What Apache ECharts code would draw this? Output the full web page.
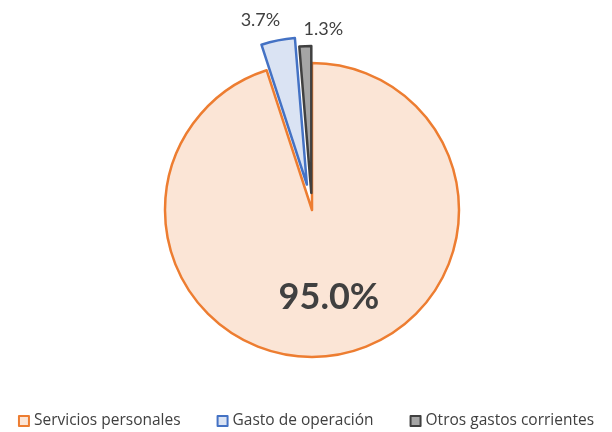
<!DOCTYPE html>
<html>
<head>
<meta charset="utf-8">
<script src="https://cdn.jsdelivr.net/npm/echarts@6/dist/echarts.min.js"></script>
<style>
    html, body { margin: 0; padding: 0; background: #fff; }
    #main-chart { width: 612px; height: 432px; }
</style>
</head>
<body>
<div id="main-chart"></div>
<script>
var categories = ['Servicios personales', 'Gasto de operación', 'Otros gastos corrientes'];
var values = [95.0, 3.7, 1.3];
var fills = ['#FBE5D6', '#DAE3F3', '#A5A5A5'];
var borders = ['#ED7D31', '#4472C4', '#404040'];

var mainChart = echarts.init(document.getElementById('main-chart'));

function hiddenItem(i) {
    return {
        name: categories[i],
        value: values[i],
        itemStyle: { color: 'transparent', borderColor: 'transparent' },
        label: { show: false },
        silent: true
    };
}

function shownItem(i, selected) {
    return {
        name: categories[i],
        value: values[i],
        selected: selected,
        itemStyle: { color: fills[i], borderColor: borders[i], borderWidth: 2.5 }
    };
}

var pieBase = {
    type: 'pie',
    center: [312, 210],
    radius: 147,
    startAngle: 90,
    selectedMode: 'multiple',
    avoidLabelOverlap: false,
    animation: false,
    emphasis: { disabled: true },
    labelLine: { show: false, length: 4, length2: 0 },
    label: {
        position: 'outside',
        formatter: function (p) { return p.value.toFixed(1) + '%'; },
        color: '#404040',
        fontFamily: 'Lato',
        fontSize: 18
    }
};

var mainOpt = {
    legend: {
        top: 408,
        left: 'center',
        itemWidth: 10,
        itemHeight: 10,
        itemGap: 36,
        textStyle: { fontFamily: 'Open Sans', fontSize: 15.5, color: '#404040' },
        data: categories.map(function (name, i) {
            return { name: name, icon: 'rect', itemStyle: { color: fills[i], borderColor: borders[i], borderWidth: 2 } };
        })
    },
    series: [
        Object.assign({}, pieBase, {
            name: 'main',
            selectedOffset: 26,
            data: [
                Object.assign(shownItem(0, false), {
                    label: { position: 'inside', fontSize: 36, fontWeight: 'bold', color: '#404040' }
                }),
                shownItem(1, true),
                hiddenItem(2)
            ],
            labelLayout: function (p) {
                if (p.dataIndex === 0) return { dx: 5, dy: 12 };
                return { dx: 8, dy: -16 };
            }
        }),
        Object.assign({}, pieBase, {
            name: 'otros',
            selectedOffset: 17,
            data: [hiddenItem(0), hiddenItem(1), shownItem(2, true)],
            labelLayout: function (p) {
                return { dx: 43, dy: -13 };
            }
        })
    ]
};

mainChart.setOption(mainOpt);
</script>
</body>
</html>
